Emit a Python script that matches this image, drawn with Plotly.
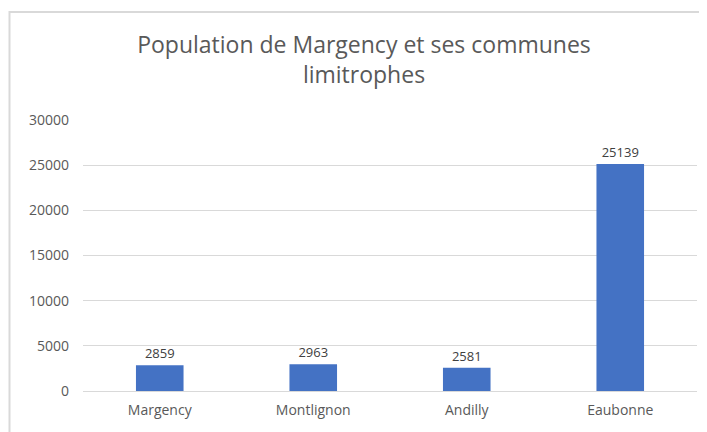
import plotly.graph_objects as go

communes = ["Margency", "Montlignon", "Andilly", "Eaubonne"]
population = [2859, 2963, 2581, 25139]
y_ticks = [0, 5000, 10000, 15000, 20000, 25000, 30000]

W, H = 707, 432
# page has an 8px body offset; margins compensate so the plot lands where the reference has it
L, R, T, B = 75, 18, 112, 49
PW, PH = W - L - R, H - T - B

fig = go.Figure()
fig.add_trace(go.Bar(
    x=communes, y=population,
    marker=dict(color="#4472C4", line=dict(width=0)),
    text=[str(v) for v in population],
    textposition="outside",
    textfont=dict(family="Open Sans", size=13, color="#404040"),
    cliponaxis=False,
))

fig.update_layout(
    width=W, height=H,
    margin=dict(l=L, r=R, t=T, b=B),
    paper_bgcolor="white", plot_bgcolor="white",
    bargap=0.69,
    showlegend=False,
    font=dict(family="Open Sans", color="#595959"),
    title=dict(
        text="Population de Margency et ses communes<br>limitrophes",
        x=356 / W, xanchor="center", xref="container",
        y=1 - 45 / H, yanchor="top", yref="container",
        font=dict(family="Open Sans", size=23, color="#595959"),
    ),
    xaxis=dict(showgrid=False, showline=False, ticks="",
               ticklabelstandoff=9,
               tickfont=dict(family="Open Sans", size=14, color="#595959")),
    yaxis=dict(range=[0, 30000], tickvals=y_ticks,
               ticktext=[str(v) for v in y_ticks],
               showgrid=True, gridcolor="#d9d9d9", gridwidth=1,
               zeroline=True, zerolinecolor="#d9d9d9", zerolinewidth=1,
               showline=False, ticks="", ticklen=0,
               ticklabelstandoff=13,
               tickfont=dict(family="Open Sans", size=14, color="#595959")),
)

fig.add_shape(type="rect", xref="paper", yref="paper",
              x0=(1.5 - L) / PW, x1=(W + 20 - L) / PW,
              y0=-(B + 20) / PH, y1=1 + (T - 4) / PH,
              line=dict(color="#d9d9d9", width=2), fillcolor="rgba(0,0,0,0)",
              layer="below")

fig.write_html("out.html")
